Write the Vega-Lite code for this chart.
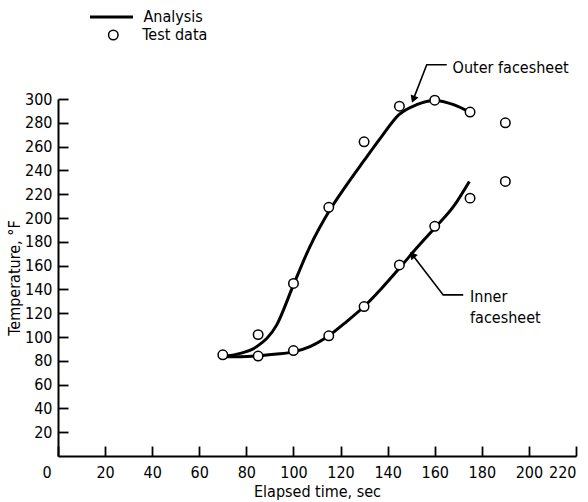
{
  "$schema": "https://vega.github.io/schema/vega-lite/v6.json",
  "width": 518,
  "height": 357,
  "autosize": {"type": "none"},
  "padding": {"left": 58, "top": 99, "right": 12, "bottom": 46},
  "background": "white",
  "config": {
    "view": {"stroke": null},
    "font": "'Liberation Sans Narrow', 'DejaVu Sans Condensed', sans-serif",
    "axis": {
      "grid": false,
      "domainColor": "black",
      "domainWidth": 2,
      "ticks": true,
      "tickColor": "black",
      "tickWidth": 1.8,
      "tickSize": -10,
      "tickOpacity": 1,
      "labelFontSize": 16,
      "labelColor": "black",
      "labelOverlap": false,
      "titleFontSize": 16,
      "titleFontWeight": "normal",
      "titleColor": "black"
    },
    "text": {"fontSize": 16, "color": "black"}
  },
  "datasets": {
    "analysis": [
      {"series": "Outer", "t": 71.6, "temp": 84},
      {"series": "Outer", "t": 77, "temp": 86},
      {"series": "Outer", "t": 84.4, "temp": 91.9},
      {"series": "Outer", "t": 92.9, "temp": 110.2},
      {"series": "Outer", "t": 100, "temp": 143.8},
      {"series": "Outer", "t": 107, "temp": 176},
      {"series": "Outer", "t": 115.5, "temp": 206.9},
      {"series": "Outer", "t": 122.6, "temp": 227.9},
      {"series": "Outer", "t": 129.7, "temp": 247.5},
      {"series": "Outer", "t": 137.5, "temp": 268.6},
      {"series": "Outer", "t": 144.8, "temp": 286.8},
      {"series": "Outer", "t": 152.3, "temp": 295.2},
      {"series": "Outer", "t": 160, "temp": 298.8},
      {"series": "Outer", "t": 168, "temp": 295.2},
      {"series": "Outer", "t": 175, "temp": 288.7},
      {"series": "Inner", "t": 70.5, "temp": 83.5},
      {"series": "Inner", "t": 77.3, "temp": 83.5},
      {"series": "Inner", "t": 84.8, "temp": 84.1},
      {"series": "Inner", "t": 92, "temp": 85.5},
      {"series": "Inner", "t": 100, "temp": 87.5},
      {"series": "Inner", "t": 107, "temp": 91.9},
      {"series": "Inner", "t": 115, "temp": 101},
      {"series": "Inner", "t": 122.6, "temp": 113},
      {"series": "Inner", "t": 130, "temp": 125.6},
      {"series": "Inner", "t": 137.5, "temp": 141},
      {"series": "Inner", "t": 145, "temp": 157.8},
      {"series": "Inner", "t": 152.3, "temp": 174.7},
      {"series": "Inner", "t": 160, "temp": 191.6},
      {"series": "Inner", "t": 168, "temp": 209.7},
      {"series": "Inner", "t": 174.7, "temp": 230.7}
    ],
    "test": [
      {"series": "Outer", "t": 70, "temp": 85},
      {"series": "Outer", "t": 85, "temp": 102},
      {"series": "Outer", "t": 100, "temp": 145},
      {"series": "Outer", "t": 115, "temp": 209},
      {"series": "Outer", "t": 130, "temp": 264},
      {"series": "Outer", "t": 145, "temp": 294},
      {"series": "Outer", "t": 160, "temp": 299},
      {"series": "Outer", "t": 175, "temp": 289},
      {"series": "Outer", "t": 190, "temp": 280},
      {"series": "Inner", "t": 85, "temp": 84},
      {"series": "Inner", "t": 100, "temp": 88.6},
      {"series": "Inner", "t": 115, "temp": 101},
      {"series": "Inner", "t": 130, "temp": 125.6},
      {"series": "Inner", "t": 145, "temp": 160.6},
      {"series": "Inner", "t": 160, "temp": 193},
      {"series": "Inner", "t": 175, "temp": 216.7},
      {"series": "Inner", "t": 190, "temp": 230.7}
    ],
    "leaders": [
      {"g": "Outer", "o": 1, "t": 165.1, "temp": 328.8},
      {"g": "Outer", "o": 2, "t": 156.6, "temp": 328.8},
      {"g": "Outer", "o": 3, "t": 150.9, "temp": 299.7},
      {"g": "Inner", "o": 1, "t": 172.1, "temp": 135.4},
      {"g": "Inner", "o": 2, "t": 163.6, "temp": 135.4},
      {"g": "Inner", "o": 3, "t": 150.5, "temp": 169.1}
    ],
    "arrows": [
      {"g": "Outer", "t": 150.9, "temp": 299.7, "angle": 201},
      {"g": "Inner", "t": 150.5, "temp": 169.1, "angle": 322}
    ],
    "labels": [
      {"t": 167.6, "temp": 326, "text": "Outer facesheet"},
      {"t": 175, "temp": 134, "text": "Inner"},
      {"t": 175, "temp": 116.3, "text": "facesheet"}
    ]
  },
  "layer": [
    {
      "data": {"name": "analysis"},
      "mark": {"type": "line", "interpolate": "monotone", "strokeWidth": 3},
      "encoding": {
        "x": {
          "field": "t", "type": "quantitative",
          "scale": {"domain": [0, 220], "nice": false},
          "axis": {
            "title": "Elapsed time, sec",
            "values": [0, 20, 40, 60, 80, 100, 120, 140, 160, 180, 200, 220],
            "tickCount": 30,
            "labelOverlap": false,
            "ticks": true,
            "tickSize": -10,
            "labelPadding": 18,
            "titlePadding": 3,
            "zindex": 2,
            "labelOffset": {"condition": {"test": "datum.value == 0", "value": -16}, "value": 0}
          }
        },
        "y": {
          "field": "temp", "type": "quantitative",
          "scale": {"domain": [0, 300], "nice": false},
          "axis": {
            "title": "Temperature, °F",
            "values": [20, 40, 60, 80, 100, 120, 140, 160, 180, 200, 220, 240, 260, 280, 300],
            "tickCount": 30,
            "labelOverlap": false,
            "ticks": true,
            "tickSize": -10,
            "labelPadding": 16,
            "titlePadding": 2,
            "zindex": 2
          }
        },
        "detail": {"field": "series"},
        "color": {
          "datum": "Analysis", "type": "nominal",
          "scale": {"domain": ["Analysis"], "range": ["black"]},
          "legend": {
            "orient": "none",
            "legendX": 30.5,
            "legendY": -105,
            "title": null,
            "padding": 0,
            "symbolType": "stroke",
            "symbolSize": 1849,
            "symbolStrokeWidth": 3,
            "symbolStrokeColor": "black",
            "labelOffset": 9,
            "labelFontSize": 16,
            "labelColor": "black"
          }
        }
      }
    },
    {
      "data": {"name": "test"},
      "mark": {"type": "point", "filled": false, "fill": "white", "strokeWidth": 1.5, "size": 90, "opacity": 1},
      "encoding": {
        "x": {"field": "t", "type": "quantitative"},
        "y": {"field": "temp", "type": "quantitative"},
        "stroke": {
          "datum": "Test data", "type": "nominal",
          "scale": {"domain": ["Test data"], "range": ["black"]},
          "legend": {
            "orient": "none",
            "legendX": 47.3,
            "legendY": -72,
            "title": null,
            "padding": 0,
            "symbolType": "circle",
            "symbolSize": 90,
            "symbolStrokeWidth": 1.5,
            "symbolStrokeColor": "black",
            "symbolFillColor": "white",
            "symbolOpacity": 1,
            "labelOffset": 21,
            "labelFontSize": 16,
            "labelColor": "black"
          }
        }
      }
    },
    {
      "data": {"name": "leaders"},
      "mark": {"type": "line", "color": "black", "strokeWidth": 1.6},
      "encoding": {
        "x": {"field": "t", "type": "quantitative"},
        "y": {"field": "temp", "type": "quantitative"},
        "detail": {"field": "g"},
        "order": {"field": "o"}
      }
    },
    {
      "data": {"name": "arrows"},
      "mark": {"type": "point", "shape": "triangle-up", "filled": true, "color": "black", "size": 70, "opacity": 1},
      "encoding": {
        "x": {"field": "t", "type": "quantitative"},
        "y": {"field": "temp", "type": "quantitative"},
        "angle": {"field": "angle", "type": "quantitative", "scale": null}
      }
    },
    {
      "data": {"name": "labels"},
      "mark": {"type": "text", "align": "left", "baseline": "middle", "fontSize": 16, "color": "black"},
      "encoding": {
        "x": {"field": "t", "type": "quantitative"},
        "y": {"field": "temp", "type": "quantitative"},
        "text": {"field": "text"}
      }
    }
  ]
}
